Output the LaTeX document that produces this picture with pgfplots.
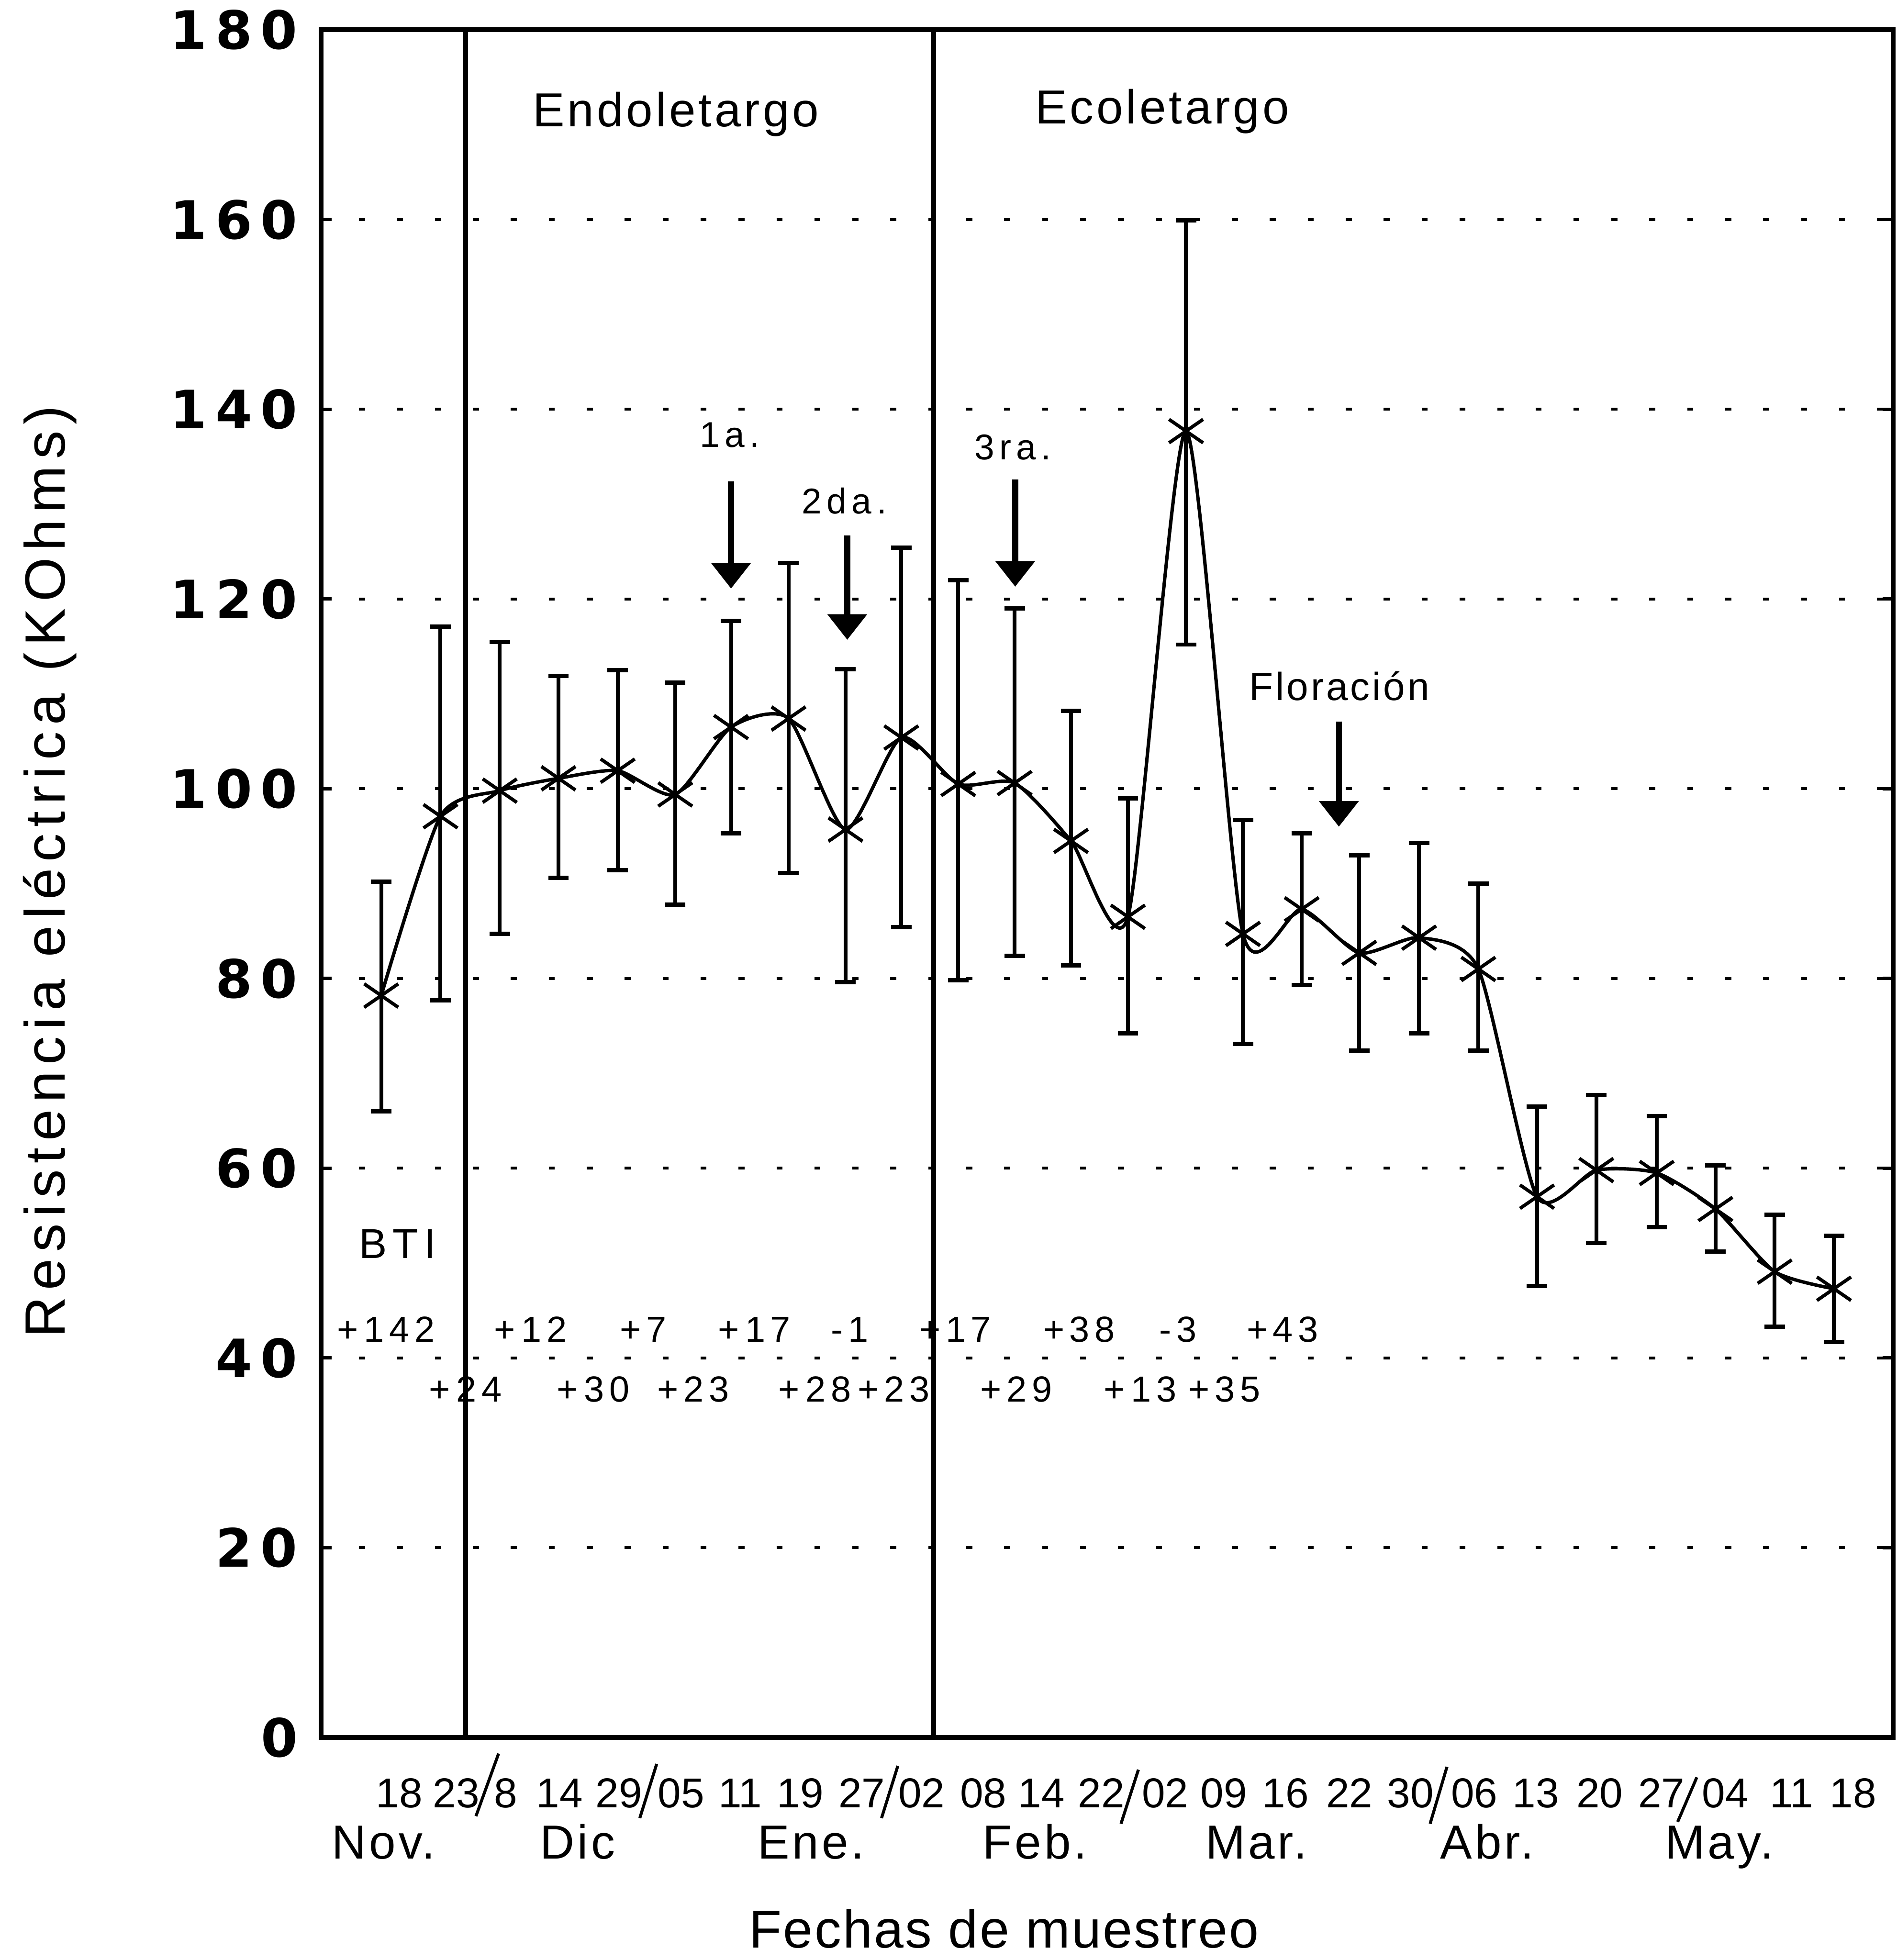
\documentclass[border=0pt]{standalone}
\usepackage{pgfplots}
\usepackage{pgfplotstable}
\pgfplotsset{compat=1.18}
\usepackage{fontspec}
\setmainfont{Liberation Sans}
\usetikzlibrary{arrows.meta}
\newfontfamily\ticknumfont[LetterSpace=16]{DejaVu Sans}
\newfontfamily\spacedfont[LetterSpace=6]{Liberation Sans}
\newfontfamily\widefont[LetterSpace=14]{Liberation Sans}
\newfontfamily\ylabfont[LetterSpace=11.5]{Liberation Sans}
\newfontfamily\xlabfont[LetterSpace=3]{Liberation Sans}
\newcommand\tickfnt{\ticknumfont\bfseries\fontsize{12.4}{14}\selectfont}
\newcommand\datefnt{\fontsize{9.8}{11}\selectfont}
\newcommand\monthfnt{\spacedfont\fontsize{11.2}{13}\selectfont}
\newcommand\phasefnt{\spacedfont\fontsize{11.2}{13}\selectfont}
\newcommand\notefnt{\widefont\fontsize{8.4}{10}\selectfont}
\newcommand\florfnt{\spacedfont\fontsize{9.2}{11}\selectfont}
\newcommand\btifnt{\widefont\fontsize{9.8}{11}\selectfont}
\newcommand\numfnt{\widefont\fontsize{8.5}{10}\selectfont}
\newcommand\ylabfnt{\ylabfont\fontsize{13.3}{15}\selectfont}
\newcommand\xlabfnt{\xlabfont\fontsize{12.5}{15}\selectfont}

\pgfplotstableread{
x y ep em
0.00 78.2 12.0 12.2
1.02 97.1 20.0 19.4
2.04 99.8 15.7 15.1
3.05 101.1 10.8 10.5
4.07 101.9 10.6 10.5
5.06 99.4 11.8 11.6
6.02 106.5 11.2 11.2
7.01 107.4 16.4 16.3
7.99 95.7 16.9 16.1
8.95 105.4 20.0 20.0
9.93 100.5 21.5 20.7
10.90 100.6 18.4 18.2
11.87 94.5 13.7 13.1
12.85 86.5 12.5 12.3
13.85 137.7 22.2 22.5
14.83 84.7 12.0 11.6
15.84 87.3 8.0 8.0
16.83 82.7 10.3 10.3
17.86 84.3 10.0 10.1
18.88 81.0 9.0 8.6
19.89 57.0 9.5 9.4
20.91 59.8 7.9 7.7
21.95 59.5 6.0 5.7
22.96 55.7 4.6 4.5
23.98 49.1 6.0 5.8
25.00 47.3 5.6 5.6
}\datatable

\begin{document}
\begin{tikzpicture}
\path[use as bounding box] (-75.3pt,-52.2pt) rectangle (369.5pt,407.5pt);
\begin{axis}[
  at={(0,0)}, anchor=south west,
  scale only axis, width=368.7pt, height=400.5pt,
  xmin=-1.035, xmax=26.02, ymin=0, ymax=180,
  clip=false,
  axis line style={line width=1.1pt, black},
  ytick={0,20,...,180},
  yticklabels={0,20,40,60,80,100,120,140,160,180},
  yticklabel style={font=\tickfnt, anchor=east, inner sep=0pt, xshift=-5.3pt},
  ymajorgrids,
  major grid style={line width=0.7pt, dash pattern=on 1.4pt off 7.5pt, black},
  ytick style={line width=0.8pt, black},
  major tick length=2.5pt, tick align=inside,
  xtick={0.31,1.29,2.14,3.07,4.09,5.16,6.18,7.21,8.27,9.30,10.36,11.36,12.39,13.49,14.50,15.56,16.66,17.71,18.81,19.87,20.97,22.03,23.13,24.27,25.33},
  xticklabels={18,23,8,14,29,05,11,19,27,02,08,14,22,02,09,16,22,30,06,13,20,27,04,11,18},
  xtick style={draw=none},
  xticklabel style={font=\datefnt, anchor=base, inner sep=0pt, yshift=-16.5pt},
  xlabel={Fechas de muestreo},
  xlabel style={at={(axis description cs:0.4345,-0.1231)}, anchor=base, font=\xlabfnt, inner sep=0pt},
  ylabel={Resistencia eléctrica (KOhms)},
  ylabel style={at={(axis description cs:-0.163,0.5071)}, anchor=base, font=\ylabfnt, inner sep=0pt},
]
% phase separators
\draw[line width=1.2pt] (axis cs:1.45,0) -- (axis cs:1.45,180);
\draw[line width=1.2pt] (axis cs:9.5,0) -- (axis cs:9.5,180);

\addplot[black, line width=0.8pt, smooth, tension=0.4, mark=x, mark size=3.9pt,
  mark options={xscale=1.45, line width=0.8pt},
  error bars/.cd, y dir=both, y explicit,
  error bar style={line width=0.9pt},
  error mark options={line width=1pt, mark size=2.4pt, rotate=90}]
  table[x=x, y=y, y error plus=ep, y error minus=em] {\datatable};

% phase labels
\node[font=\phasefnt, anchor=base] at (axis cs:5.07,169.8) {Endoletargo};
\node[font=\phasefnt, anchor=base] at (axis cs:13.44,170.1) {Ecoletargo};

% application arrows
\node[font=\notefnt, anchor=base] at (axis cs:6.0,136.0) {1a.};
\node[font=\notefnt, anchor=base] at (axis cs:7.97,129.0) {2da.};
\node[font=\notefnt, anchor=base] at (axis cs:10.87,134.7) {3ra.};
\node[font=\florfnt, anchor=base] at (axis cs:16.49,109.3) {Floración};
\draw[line width=1.4pt, -{Triangle[width=9pt,length=6pt]}] (axis cs:6.02,132.4) -- (axis cs:6.02,121.1);
\draw[line width=1.4pt, -{Triangle[width=9pt,length=6pt]}] (axis cs:8.02,126.7) -- (axis cs:8.02,115.7);
\draw[line width=1.4pt, -{Triangle[width=9pt,length=6pt]}] (axis cs:10.91,132.6) -- (axis cs:10.91,121.3);
\draw[line width=1.4pt, -{Triangle[width=9pt,length=6pt]}] (axis cs:16.48,107.1) -- (axis cs:16.48,96.0);

% BTI
\node[font=\btifnt, anchor=base] at (axis cs:0.28,50.5) {BTI};
\node[font=\numfnt, anchor=base] at (axis cs:0.08,41.7) {+\,142};
\node[font=\numfnt, anchor=base] at (axis cs:2.57,41.7) {+\,12};
\node[font=\numfnt, anchor=base] at (axis cs:4.51,41.7) {+7};
\node[font=\numfnt, anchor=base] at (axis cs:6.42,41.7) {+\,17};
\node[font=\numfnt, anchor=base] at (axis cs:8.06,41.7) {-1};
\node[font=\numfnt, anchor=base] at (axis cs:9.88,41.7) {+17};
\node[font=\numfnt, anchor=base] at (axis cs:12.01,41.7) {+38};
\node[font=\numfnt, anchor=base] at (axis cs:13.71,41.7) {-3};
\node[font=\numfnt, anchor=base] at (axis cs:15.51,41.7) {+43};
\node[font=\numfnt, anchor=base] at (axis cs:1.45,35.4) {+\,24};
\node[font=\numfnt, anchor=base] at (axis cs:3.65,35.4) {+\,30};
\node[font=\numfnt, anchor=base] at (axis cs:5.37,35.4) {+23};
\node[font=\numfnt, anchor=base] at (axis cs:7.46,35.4) {+\,28};
\node[font=\numfnt, anchor=base] at (axis cs:8.82,35.4) {+23};
\node[font=\numfnt, anchor=base] at (axis cs:10.93,35.4) {+29};
\node[font=\numfnt, anchor=base] at (axis cs:13.06,35.4) {+\,13};
\node[font=\numfnt, anchor=base] at (axis cs:14.51,35.4) {+35};

% months
\node[font=\monthfnt, anchor=base] at (axis cs:0.04,-12.8) {Nov.};
\node[font=\monthfnt, anchor=base] at (axis cs:3.38,-12.8) {Dic};
\node[font=\monthfnt, anchor=base] at (axis cs:7.40,-12.8) {Ene.};
\node[font=\monthfnt, anchor=base] at (axis cs:11.25,-12.8) {Feb.};
\node[font=\monthfnt, anchor=base] at (axis cs:15.06,-12.8) {Mar.};
\node[font=\monthfnt, anchor=base] at (axis cs:19.03,-12.8) {Abr.};
\node[font=\monthfnt, anchor=base] at (axis cs:23.03,-12.8) {May.};

% month separators (slashes)
\draw[line width=0.7pt] (axis cs:2.02,-1.7) -- (axis cs:1.63,-8.3);
\draw[line width=0.7pt] (axis cs:4.74,-2.8) -- (axis cs:4.45,-8.5);
\draw[line width=0.7pt] (axis cs:8.89,-3.0) -- (axis cs:8.61,-8.5);
\draw[line width=0.7pt] (axis cs:13.03,-3.4) -- (axis cs:12.73,-9.1);
\draw[line width=0.7pt] (axis cs:18.34,-3.1) -- (axis cs:18.05,-9.1);
\draw[line width=0.7pt] (axis cs:22.64,-4.2) -- (axis cs:22.31,-8.9);
\end{axis}
\end{tikzpicture}
\end{document}
